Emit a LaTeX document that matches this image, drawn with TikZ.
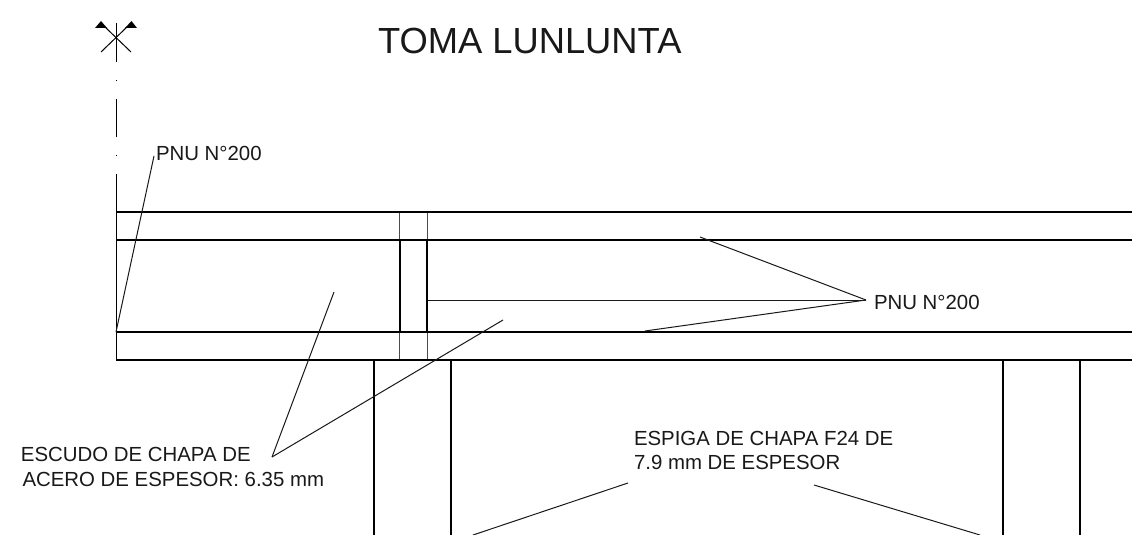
\documentclass[tikz,border=0pt]{standalone}
\usepackage{fontspec}
\setmainfont{Liberation Sans}
\begin{document}
\begin{tikzpicture}[x=0.75pt,y=-0.75pt,
  thinline/.style={line width=0.75pt,black},
  midline/.style={line width=0.75pt,black!70},
  heavy/.style={line width=1.5pt,black},
  leader/.style={line width=0.75pt,black!90},
  lbl/.style={anchor=base west,inner sep=0pt,outer sep=0pt,font=\fontsize{15.3pt}{18pt}\selectfont,text=black!90},
  ttl/.style={anchor=base west,inner sep=0pt,outer sep=0pt,font=\fontsize{27.25pt}{32pt}\selectfont,text=black!90}]
\useasboundingbox (0,0) rectangle (1132,535);
\fill[white] (0,0) rectangle (1132,535);
% title and labels
\node[ttl] (title) at (378,54) {TOMA LUNLUNTA};
\node[lbl] (pnuA) at (156,161) {PNU N°200};
\node[lbl] (pnuB) at (874,309) {PNU N°200};
\node[lbl] (escA) at (21,461) {ESCUDO DE CHAPA DE};
\node[lbl] (escB) at (22.5,486) {ACERO DE ESPESOR: 6.35 mm};
\node[lbl] (espA) at (634,445) {ESPIGA DE CHAPA F24 DE};
\node[lbl] (espB) at (634,469) {7.9 mm DE ESPESOR};
% section mark
\coordinate (c0) at (116,23);
\coordinate (c1) at (116,62);
\draw[thinline] (c0) -- (c1);
\coordinate (xa) at (101,52);
\coordinate (xb) at (127,27);
\coordinate (xc) at (131,52);
\coordinate (xd) at (105,27);
\draw[thinline] (xa) -- (xb);
\draw[thinline] (xc) -- (xd);
\fill[black] (95,28) -- (101,21) -- (107,28) -- cycle;
\fill[black] (125,28) -- (131.5,21) -- (137,28) -- cycle;
% centre line
\draw[thinline] (116,80) -- (116,81);
\draw[thinline] (116,99) -- (116,137);
\draw[thinline] (116,155) -- (116,156);
\draw[thinline] (116,174) -- (116,212);
% beam
\coordinate (bl1) at (116,212); \coordinate (br1) at (1132,212);
\coordinate (bl2) at (116,240); \coordinate (br2) at (1132,240);
\coordinate (bl3) at (116,332); \coordinate (br3) at (1132,332);
\coordinate (bl4) at (116,360); \coordinate (br4) at (1132,360);
\draw[thinline] (bl1) -- (bl4);
\draw[midline] (399.5,212) -- (399.5,360);
\draw[midline] (427,212) -- (427,360);
\draw[heavy] (399.5,240) -- (399.5,332);
\draw[heavy] (427,240) -- (427,332);
\draw[heavy] (bl1) -- (br1);
\draw[heavy] (bl2) -- (br2);
\draw[heavy] (bl3) -- (br3);
\draw[heavy] (bl4) -- (br4);
% lower plates
\draw[heavy] (374,360) -- (374,535);
\draw[heavy] (451,360) -- (451,535);
\draw[heavy] (1003,360) -- (1003,535);
\draw[heavy] (1080,360) -- (1080,535);
% leaders
\coordinate (hubA) at (866,300);
\coordinate (hubB) at (272,457);
\coordinate (topL) at (154,156);
\coordinate (t1) at (700,237);
\coordinate (t2) at (428,300);
\coordinate (t3) at (645,331);
\coordinate (t4) at (334,292);
\coordinate (t5) at (503,320);
\coordinate (t6) at (116,332);
\draw[leader] (t6) -- (topL);
\draw[leader] (t1) -- (hubA);
\draw[leader] (t2) -- (hubA);
\draw[leader] (t3) -- (hubA);
\draw[leader] (t4) -- (hubB);
\draw[leader] (t5) -- (hubB);
\coordinate (e1) at (628,483); \coordinate (e2) at (473,535);
\coordinate (e3) at (814,485); \coordinate (e4) at (980,535);
\draw[leader] (e1) -- (e2);
\draw[leader] (e3) -- (e4);
\end{tikzpicture}
\end{document}
